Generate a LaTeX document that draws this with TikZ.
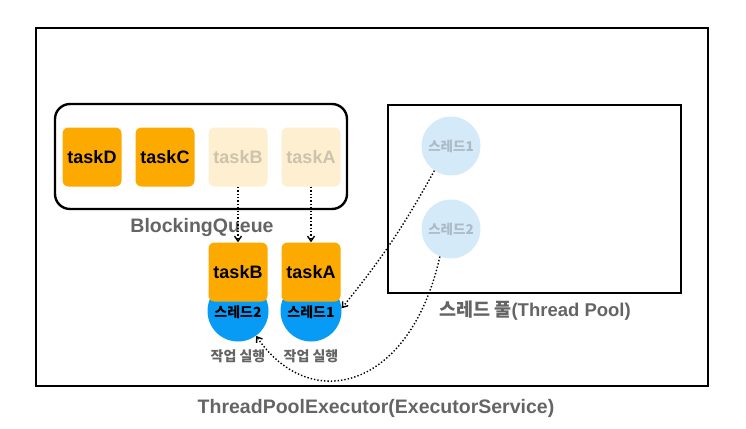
\documentclass[tikz,border=0pt]{standalone}
\usepackage{fontspec}
\setmainfont{Liberation Sans}
\newfontfamily\kr{Noto Sans CJK KR}
\usepackage{tikz}
\usetikzlibrary{arrows.meta, positioning}
\definecolor{taskorange}{RGB}{253, 170, 0}
\definecolor{taskfade}{RGB}{253, 239, 208}
\definecolor{textfade}{RGB}{205, 195, 172}
\definecolor{runblue}{RGB}{8, 155, 245}
\definecolor{idleblue}{RGB}{213, 234, 249}
\definecolor{idletext}{RGB}{172, 186, 198}
\definecolor{labgray}{RGB}{100, 100, 100}
\tikzset{
    task/.style    ={fill=taskorange, rounded corners=6pt, minimum width=59pt,
                     minimum height=59pt, inner sep=0pt,
                     font=\fontsize{18}{21}\selectfont\bfseries},
    taskold/.style ={task, fill=taskfade, text=textfade},
    run/.style     ={circle, fill=runblue, minimum size=61pt, inner sep=0pt},
    runtext/.style ={font=\kr\fontsize{14}{16}\selectfont\bfseries},
    idle/.style    ={circle, fill=idleblue, minimum size=59pt, inner sep=0pt,
                     text=idletext, font=\kr\fontsize{13.5}{16}\selectfont\bfseries},
    frame/.style   ={draw=black, line width=2.6pt},
    caption/.style ={text=labgray, font=\fontsize{19.5}{23}\selectfont\bfseries},
    note/.style    ={text=labgray, font=\kr\fontsize{14}{16}\selectfont\bfseries},
    dar/.style     ={-{Straight Barb[length=5pt, width=7pt]}, line width=1.4pt, dotted}
}

\begin{document}
\begin{tikzpicture}[x=1pt, y=-1pt]
  \useasboundingbox (0,0) rectangle (746,428);

  % executor frame
  \draw[frame] (36,28) rectangle (708,386);
  \node[caption] (exec) at (376,408) {ThreadPoolExecutor(ExecutorService)};

  % blocking queue
  \draw[frame, line width=2.4pt, rounded corners=15pt] (55,104) rectangle (347,209);
  \node[task]    (qD) at (92,157)  {taskD};
  \node[task]    (qC) at (165,157) {taskC};
  \node[taskold] (qB) at (238,157) {taskB};
  \node[taskold] (qA) at (311,157) {taskA};
  \node[caption] (queue) at (202,227) {BlockingQueue};

  % thread pool
  \draw[frame] (388,105) rectangle (681,293);
  \node[idle] (pool1) at (451,146) {스레드1};
  \node[idle] (pool2) at (451,229) {스레드2};
  \node[caption, font=\fontsize{18.5}{22}\selectfont\bfseries] (pool) at (535,311)
       {{\kr 스레드 풀}(Thread Pool)};

  % running threads
  \node[run] (run2) at (238,311) {};
  \node[run] (run1) at (311,311) {};
  \node[task] (tB) at (238,272) {taskB};
  \node[task] (tA) at (311,272) {taskA};
  \node[runtext] at (238,312) {스레드2};
  \node[runtext] at (311,312) {스레드1};
  \node[note] (work2) at (238,356) {작업 실행};
  \node[note] (work1) at (311,356) {작업 실행};

  \draw[dar] (qB.south) -- (tB.north);
  \draw[dar] (qA.south) -- (tA.north);
  \draw[dar] (pool1.236) to[bend left=5] (run1.5);
  \draw[dar] (pool2.248) .. controls (410,390) and (310,415) .. (run2.306);
\end{tikzpicture}
\end{document}
